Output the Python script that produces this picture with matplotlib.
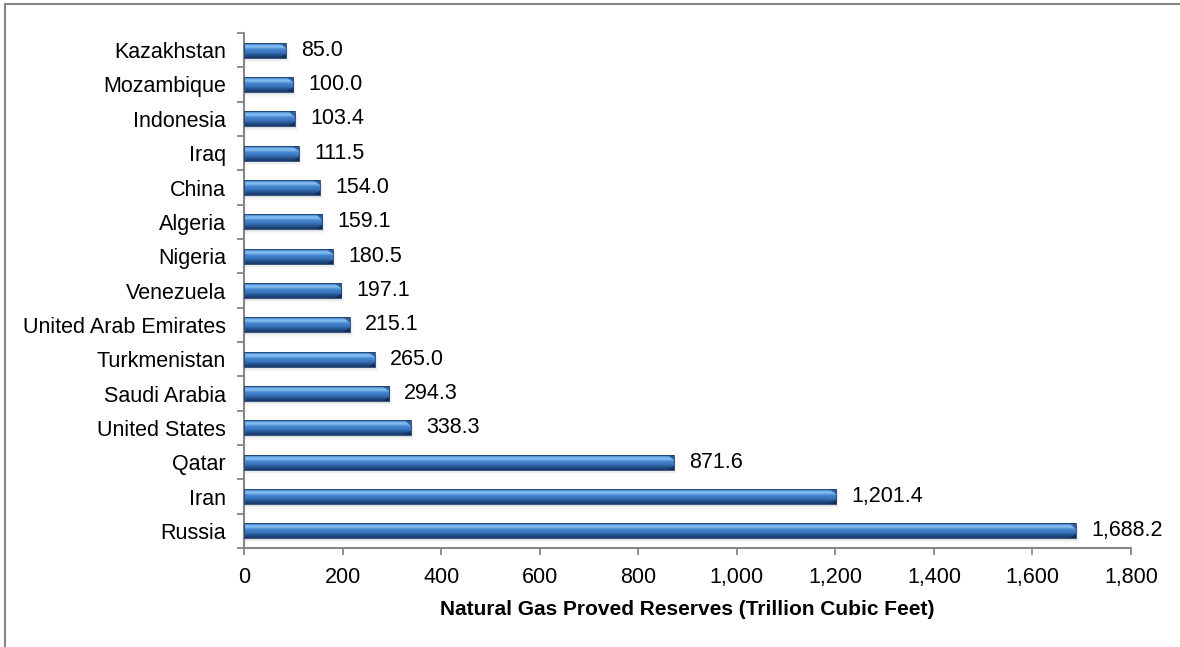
import numpy as np
import matplotlib
matplotlib.use("Agg")
import matplotlib.pyplot as plt
from matplotlib.lines import Line2D
from matplotlib.patches import Rectangle, Polygon
from matplotlib.colors import to_rgb
from matplotlib.ticker import FuncFormatter, FixedLocator

plt.rcParams['font.family'] = ['Liberation Sans', 'DejaVu Sans']

countries = ["Russia", "Iran", "Qatar", "United States", "Saudi Arabia",
             "Turkmenistan", "United Arab Emirates", "Venezuela", "Nigeria",
             "Algeria", "China", "Iraq", "Indonesia", "Mozambique", "Kazakhstan"]
reserves = [1688.2, 1201.4, 871.6, 338.3, 294.3, 265.0, 215.1, 197.1, 180.5,
            159.1, 154.0, 111.5, 103.4, 100.0, 85.0]
x_ticks = [0, 200, 400, 600, 800, 1000, 1200, 1400, 1600, 1800]
x_label = "Natural Gas Proved Reserves (Trillion Cubic Feet)"

fig = plt.figure(figsize=(11.8, 6.47), dpi=100)
ax = fig.add_axes([0.2068, 0.153, 0.9585 - 0.2068, 0.949 - 0.153])

bar_h = 0.44
ypos = np.arange(len(countries))

# vertical shading profile of a bevelled bar, bottom -> top
stops = [(0.00, "#1a3866"), (0.18, "#23508c"), (0.32, "#3670b6"),
         (0.55, "#4686d0"), (0.70, "#88c0f0"), (0.80, "#74b0ea"),
         (0.90, "#3f78c0"), (1.00, "#2f62a4")]
n = 64
t = np.linspace(0, 1, n)
sp = np.array([s[0] for s in stops])
cols = np.array([to_rgb(s[1]) for s in stops])
grad = np.stack([np.interp(t, sp, cols[:, k]) for k in range(3)], axis=-1)
grad = grad[:, None, :]

for y, v in zip(ypos, reserves):
    # soft drop shadow
    for k, a in enumerate([0.12, 0.08, 0.05]):
        dx = 2 + k * 2
        ax.add_patch(Rectangle((0, y - bar_h / 2 - 0.05 - 0.04 * k), v + dx, bar_h,
                               facecolor="#7a7a7a", edgecolor="none", alpha=a, zorder=1))
    rect = Rectangle((0, y - bar_h / 2), v, bar_h, facecolor="none",
                     edgecolor="#1d3f70", linewidth=0.6, zorder=3)
    ax.add_patch(rect)
    im = ax.imshow(grad, extent=(0, v, y - bar_h / 2, y + bar_h / 2),
                   origin="lower", aspect="auto", interpolation="bilinear", zorder=2)
    im.set_clip_path(rect)
    # bevelled end of the bar
    bev = 14.0
    ax.add_patch(Polygon([(v - bev, y + bar_h / 2), (v, y + bar_h / 2),
                          (v, y + bar_h / 2 - 0.16)],
                         closed=True, facecolor="#2a5896", edgecolor="none",
                         alpha=0.9, zorder=2.5))
    ax.add_patch(Polygon([(v - bev, y - bar_h / 2), (v, y - bar_h / 2),
                          (v, y - bar_h / 2 + 0.12)],
                         closed=True, facecolor="#142e55", edgecolor="none",
                         alpha=0.9, zorder=2.5))
    ax.annotate(f"{v:,.1f}", xy=(v, y), xytext=(11, 0), textcoords="offset points",
                ha="left", va="center", fontsize=15.5, color="#000000")

ax.set_xlim(0, 1800)
ax.set_ylim(-0.5, len(countries) - 0.5)

ax.set_xticks(x_ticks)
ax.xaxis.set_major_formatter(FuncFormatter(lambda x, p: f"{x:,.0f}"))
ax.set_yticks(ypos)
ax.set_yticklabels(countries)
ax.yaxis.set_minor_locator(FixedLocator(np.arange(-0.5, len(countries), 1.0)))

ax.tick_params(axis="y", which="major", length=0, pad=13, labelsize=15.5)
ax.tick_params(axis="y", which="minor", length=5, width=1.3, color="#868686", direction="out")
ax.tick_params(axis="x", which="major", length=5, width=1.3, color="#868686",
               direction="out", pad=9, labelsize=15.5)

for side in ("top", "right"):
    ax.spines[side].set_visible(False)
for side in ("left", "bottom"):
    ax.spines[side].set_color("#868686")
    ax.spines[side].set_linewidth(1.5)

ax.set_xlabel(x_label, fontsize=15, fontweight="bold", labelpad=8)

# outer frame lines (top and left)
fig.add_artist(Line2D([5 / 1180, 1], [1 - 4 / 647, 1 - 4 / 647], transform=fig.transFigure,
                      color="#868686", linewidth=1.5))
fig.add_artist(Line2D([5 / 1180, 5 / 1180], [0, 1 - 4 / 647], transform=fig.transFigure,
                      color="#868686", linewidth=1.5))

fig.savefig("out.png", dpi=100)
